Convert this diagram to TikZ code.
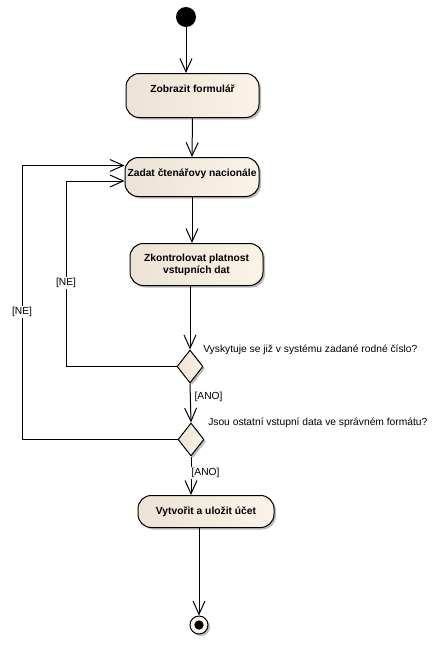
\documentclass[tikz,border=0pt]{standalone}
\usepackage{fontspec}
\setmainfont{Liberation Sans}
\usetikzlibrary{arrows.meta,shapes.geometric,shadows,calc}

\definecolor{actionleft}{RGB}{236,227,214}
\definecolor{actionright}{RGB}{251,243,231}

\begin{document}
\begin{tikzpicture}[x=0.75pt,y=-0.75pt,
                    flow/.style={line width=0.75pt,-{Straight Barb[length=10pt,width=9pt]}},
                    soft shadow/.style={drop shadow={shadow xshift=1.5pt,shadow yshift=-1.5pt,fill=black!60,opacity=0.45}},
                    action/.style={draw,line width=0.75pt,rounded corners=10pt,left color=actionleft,right color=actionright,
                                   soft shadow,font=\bfseries\fontsize{7.7}{9}\selectfont,inner xsep=1pt,inner ysep=0pt,anchor=north},
                    one line/.style={text height=14pt,text depth=#1},
                    decision/.style={diamond,draw,line width=0.75pt,inner sep=0pt,minimum width=19.5pt,minimum height=24.75pt,
                                     left color=actionleft,right color=actionright,soft shadow},
                    question/.style={font=\fontsize{7.7}{9}\selectfont,anchor=west,inner sep=0pt},
                    guard/.style={font=\fontsize{7.7}{9}\selectfont,fill=white,inner sep=1pt}]
            \useasboundingbox (0,0) rectangle (441,647);

            \node[circle,fill=black,minimum size=15pt,inner sep=0pt] (start) at (186,17) {};
            \node[action,one line=19pt,minimum width=99.75pt] (show form) at (192.5,73) {Zobrazit formulář};
            \node[action,one line=15.25pt,minimum width=100.5pt] (enter nation) at (192,157) {Zadat čtenářovy nacionále};
            \node[action,align=center,minimum width=99.75pt,minimum height=31.5pt] (check data) at (196.5,243) {Zkontrolovat platnost\\vstupních dat};
            \node[decision] (decide rc) at (190,366.5) {};
            \node[question] (rc question) at (203,350) {Vyskytuje se již v systému zadané rodné číslo?};
            \node[decision] (decide fmt) at (191,439.5) {};
            \node[question] (fmt question) at (208,423) {Jsou ostatní vstupní data ve správném formátu?};
            \node[action,one line=10pt,minimum width=102pt] (save account) at (206,495) {Vytvořit a uložit účet};
            \node[circle,draw,line width=0.75pt,fill=actionright,minimum size=13.5pt,inner sep=0pt,soft shadow] (end) at (199,625) {};
            \node[circle,fill=black,minimum size=7pt,inner sep=0pt] (end dot) at (end) {};

            \coordinate (rc bend) at (66,0);
            \coordinate (fmt bend) at (22,0);
            \coordinate (rc back) at ($(enter nation.west)+(0,4)$);
            \coordinate (fmt back) at ($(enter nation.west)+(0,-11.5)$);

            \draw[flow] (start) -- (start |- show form.north);
            \draw[flow] (show form.south) -- (enter nation.north);
            \draw[flow] (enter nation.south) -- (enter nation.south |- check data.north);
            \draw[flow] (check data.south -| decide rc.north) -- (decide rc.north);
            \draw[flow] (decide rc.south) -- (decide fmt.north);
            \draw[flow] (decide fmt.south) -- (decide fmt.south |- save account.north);
            \draw[flow] (save account.south -| end) -- (end);
            \draw[flow] (decide rc.west) -| (rc bend |- rc back) -- (rc back);
            \draw[flow] (decide fmt.west) -| (fmt bend |- fmt back) -- (fmt back);

            \node[guard] (ne rc) at (66,283) {[NE]};
            \node[guard] (ne fmt) at (22,312) {[NE]};
            \node[guard,anchor=west] (ano rc) at (193,397) {[ANO]};
            \node[guard,anchor=west] (ano fmt) at (190,473) {[ANO]};
        \end{tikzpicture}
\end{document}
